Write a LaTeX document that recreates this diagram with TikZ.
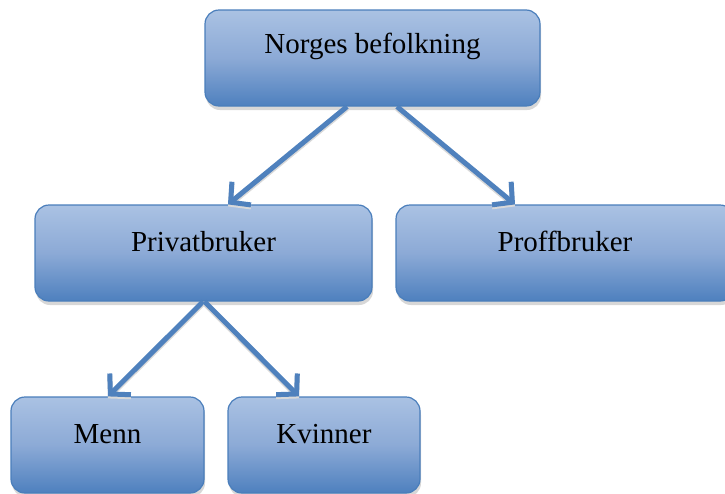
\documentclass[tikz,border=0pt]{standalone}
\usepackage{fontspec}
\setmainfont{Liberation Serif}
\usetikzlibrary{arrows.meta,shadows,calc}
\definecolor{boxtop}{RGB}{170,194,227}
\definecolor{boxmid}{RGB}{140,170,214}
\definecolor{boxbot}{RGB}{78,128,190}
\definecolor{boxline}{RGB}{74,126,187}
\definecolor{linkblue}{RGB}{79,129,189}
\tikzset{
  box/.style={rounded corners=14pt, draw=boxline, line width=1.2pt,
    top color=boxtop, bottom color=boxbot, middle color=boxmid,
    minimum height=96pt, inner sep=0pt,
    drop shadow={shadow xshift=1pt, shadow yshift=-4pt, fill=black!35, opacity=0.45}},
  lbl/.style={font=\fontsize{29}{32}\selectfont, text=black, inner sep=0pt},
  tip/.style={-{Straight Barb[length=14pt,width=30pt,line width=5pt]}},
  link/.style={draw=linkblue, line width=5pt, tip,
    preaction={draw=black!15, line width=5pt, transform canvas={yshift=-2pt}, tip}}
}
\begin{document}
\begin{tikzpicture}[x=1pt,y=-1pt]
\useasboundingbox (0,0) rectangle (725,493);
\clip (0,0) rectangle (725,493);
% boxes
\node[box, minimum width=335pt] (top) at (372.5,58) {};
\node[box, minimum width=337pt] (priv) at (203.5,253) {};
\node[box, minimum width=338pt] (prof) at (565,253) {};
\node[box, minimum width=193pt] (menn) at (107.5,445) {};
\node[box, minimum width=192pt] (kvin) at (324,445) {};
% labels
\node[lbl] (ttop) at ($(top.north)+(0,37)$) {Norges befolkning};
\node[lbl] (tpriv) at ($(priv.north)+(0,37)$) {Privatbruker};
\node[lbl] (tprof) at ($(prof.north)+(0,37)$) {Proffbruker};
\node[lbl] (tmenn) at ($(menn.north)+(0,38)$) {Menn};
\node[lbl] (tkvin) at ($(kvin.north)+(0,38)$) {Kvinner};
% connectors
\draw[link] ($(top.south)+(-25.5,0)$) -- ($(priv.north)+(24.5,0)$);
\draw[link] ($(top.south)+(24.5,0)$) -- ($(prof.north)+(-50,0)$);
\draw[link] ($(priv.south)+(-0.5,0)$) -- ($(menn.north)+(0.5,0)$);
\draw[link] ($(priv.south)+(1,0)$) -- ($(kvin.north)+(-25,0)$);
\end{tikzpicture}
\end{document}
